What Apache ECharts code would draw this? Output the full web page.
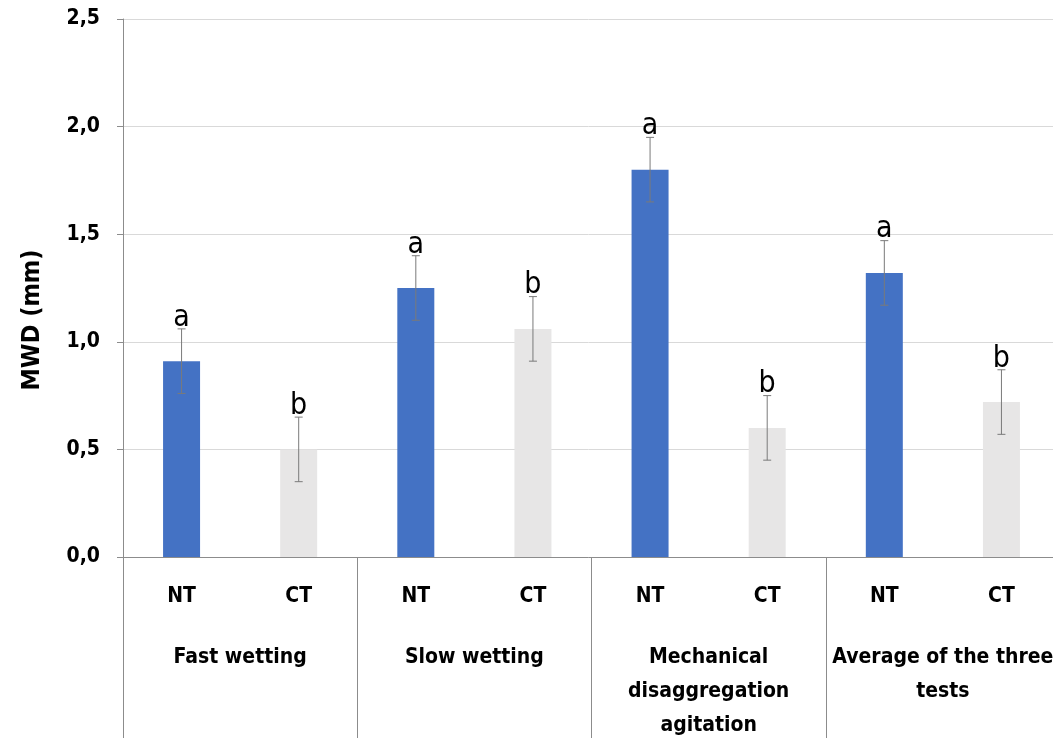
<!DOCTYPE html>
<html>
<head>
<meta charset="utf-8">
<style>
  html, body { margin: 0; padding: 0; background: #ffffff; }
  #chart { width: 1053px; height: 738px; }
</style>
<script src="https://cdn.jsdelivr.net/npm/echarts@6/dist/echarts.min.js"></script>
</head>
<body>
<div id="chart"></div>
<script>
// Mean weight diameter of aggregates by test and tillage system
const groups = ['Fast wetting', 'Slow wetting', 'Mechanical\ndisaggregation\nagitation', 'Average of the three\ntests'];
const treatments = ['NT', 'CT'];
const ntValues = [0.91, 1.25, 1.80, 1.32];
const ctValues = [0.50, 1.06, 0.60, 0.72];
const ntErrors = [0.15, 0.15, 0.15, 0.15];
const ctErrors = [0.15, 0.15, 0.15, 0.15];
const ntLetters = ['a', 'a', 'a', 'a'];
const ctLetters = ['b', 'b', 'b', 'b'];
const yTicks = [0, 0.5, 1.0, 1.5, 2.0, 2.5];

const NT_COLOR = '#4472C4';
const CT_COLOR = '#E7E6E6';
const FONT = '"Liberation Sans Narrow", "DejaVu Sans Condensed", Lato, sans-serif';

// Flatten groups into NT/CT category pairs
const categories = [];
const barData = [];
const errData = [];
groups.forEach((g, i) => {
  categories.push(treatments[0], treatments[1]);
  barData.push({ value: ntValues[i], itemStyle: { color: NT_COLOR } });
  barData.push({ value: ctValues[i], itemStyle: { color: CT_COLOR } });
  errData.push([i * 2, ntValues[i], ntErrors[i], ntLetters[i]]);
  errData.push([i * 2 + 1, ctValues[i], ctErrors[i], ctLetters[i]]);
});

function renderError(params, api) {
  const x = api.value(0);
  const v = api.value(1);
  const e = api.value(2);
  const letter = errData[params.dataIndex][3];
  const hi = api.coord([x, v + e]);
  const lo = api.coord([x, v - e]);
  const cap = 4;
  const style = { stroke: '#7a7a7a', lineWidth: 1 };
  return {
    type: 'group',
    children: [
      { type: 'line', shape: { x1: hi[0], y1: hi[1], x2: lo[0], y2: lo[1] }, style: style },
      { type: 'line', shape: { x1: hi[0] - cap, y1: hi[1], x2: hi[0] + cap, y2: hi[1] }, style: style },
      { type: 'line', shape: { x1: lo[0] - cap, y1: lo[1], x2: lo[0] + cap, y2: lo[1] }, style: style },
      {
        type: 'text',
        x: hi[0], y: hi[1] + 4,
        style: {
          text: letter, fill: '#000', font: '30px ' + FONT,
          align: 'center', verticalAlign: 'bottom'
        }
      }
    ]
  };
}

const chart = echarts.init(document.getElementById('chart'));
chart.setOption({
  animation: false,
  grid: { left: 123, width: 937, top: 19, height: 538, outerBoundsMode: 'none', containLabel: false },
  xAxis: [
    {
      type: 'category',
      data: categories,
      position: 'bottom',
      axisLine: { lineStyle: { color: '#8c8c8c', width: 1 } },
      axisTick: { show: false },
      axisLabel: {
        interval: 0, margin: 29, color: '#000',
        fontFamily: FONT, fontWeight: 'bold', fontSize: 21
      }
    },
    {
      type: 'category',
      data: groups,
      position: 'bottom',
      axisLine: { show: false },
      axisTick: { show: true, length: 181, lineStyle: { color: '#8c8c8c', width: 1 } },
      axisLabel: {
        interval: 0, margin: 84, color: '#000',
        fontFamily: FONT, fontWeight: 'bold', fontSize: 21, lineHeight: 34
      }
    }
  ],
  yAxis: {
    type: 'value',
    min: yTicks[0],
    max: yTicks[yTicks.length - 1],
    interval: 0.5,
    name: 'MWD (mm)',
    nameLocation: 'middle',
    nameGap: 78,
    nameTextStyle: {
      color: '#000', fontFamily: FONT, fontWeight: 'bold', fontSize: 25,
      padding: [0, 0, 0, -64]
    },
    axisLine: { show: true, lineStyle: { color: '#8c8c8c', width: 1 } },
    axisTick: { show: true, length: 6, lineStyle: { color: '#8c8c8c' } },
    splitLine: { lineStyle: { color: '#d9d9d9', width: 1 } },
    axisLabel: {
      margin: 23, color: '#000',
      fontFamily: FONT, fontWeight: 'bold', fontSize: 21,
      formatter: v => v.toFixed(1).replace('.', ',')
    }
  },
  series: [
    {
      type: 'bar',
      xAxisIndex: 0,
      data: barData,
      barWidth: 37
    },
    {
      type: 'custom',
      xAxisIndex: 0,
      renderItem: renderError,
      data: errData.map(d => [d[0], d[1], d[2]]),
      encode: { x: 0, y: 1 },
      z: 5
    }
  ]
});
</script>
</body>
</html>
